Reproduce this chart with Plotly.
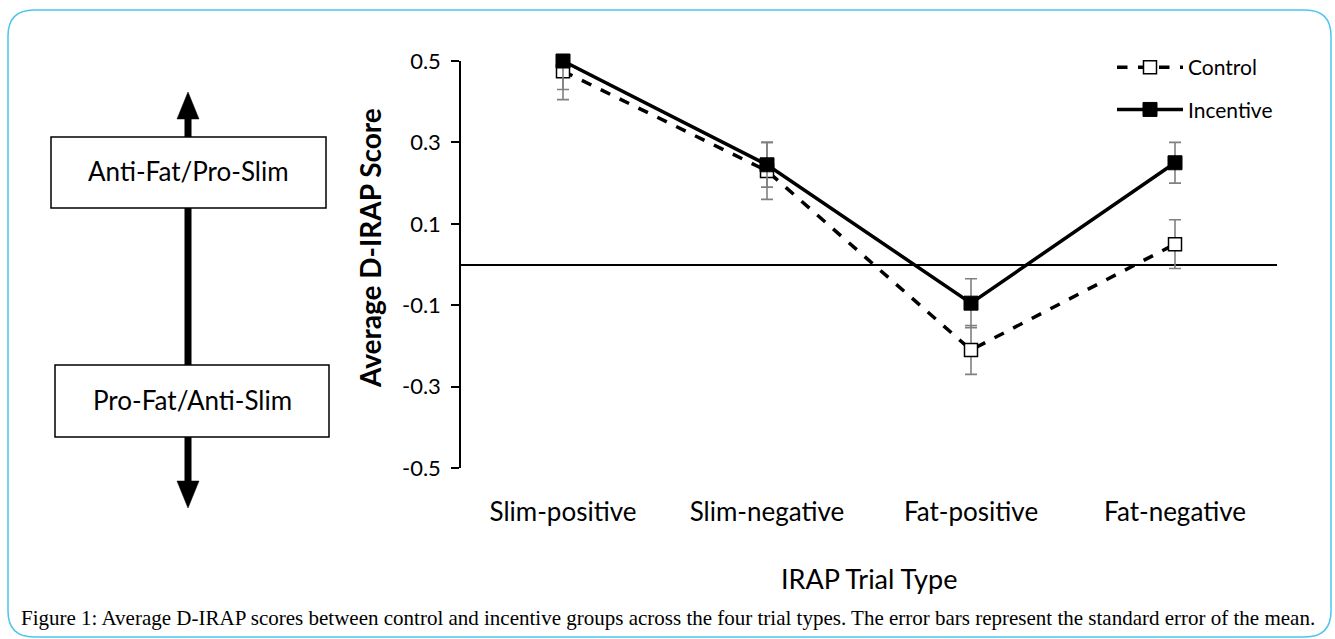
import plotly.graph_objects as go

# ---------------- data ----------------
categories = ["Slim-positive", "Slim-negative", "Fat-positive", "Fat-negative"]
control_mean = [0.475, 0.23, -0.21, 0.05]
control_se = [0.07, 0.07, 0.06, 0.06]
incentive_mean = [0.50, 0.245, -0.095, 0.25]
incentive_se = [0.07, 0.055, 0.06, 0.05]
y_tickvals = [0.5, 0.3, 0.1, -0.1, -0.3, -0.5]
y_ticktext = ["0.5", "0.3", "0.1", "-0.1", "-0.3", "-0.5"]
Y_MIN, Y_MAX = -0.5, 0.5

# ---------------- layout geometry ----------------
W, H = 1335, 639
L, R, T, B = 461, 58, 61, 171
PW, PH = W - L - R, H - T - B


def px(x):
    return (x - L) / PW


def py(y):
    return (H - B - y) / PH


FONT = "Lato"
GRAY = "#808080"


def clipped_plus(means, ses):
    return [min(s, Y_MAX - m) for m, s in zip(means, ses)]


fig = go.Figure()
fig.add_trace(go.Scatter(
    x=categories, y=control_mean, name="Control", mode="lines+markers",
    legendgroup="c", cliponaxis=False,
    line=dict(color="black", width=3.5, dash="dash"),
    marker=dict(symbol="square", size=13, color="white",
                line=dict(color="black", width=1.5)),
    error_y=dict(type="data", symmetric=False,
                 array=clipped_plus(control_mean, control_se),
                 arrayminus=control_se, color=GRAY, thickness=1.6, width=6),
))
fig.add_trace(go.Scatter(
    x=categories, y=incentive_mean, name="Incentive", mode="lines+markers",
    legendgroup="i", cliponaxis=False,
    line=dict(color="black", width=3.5),
    marker=dict(symbol="square", size=14, color="black",
                line=dict(color="black", width=1)),
    error_y=dict(type="data", symmetric=False,
                 array=clipped_plus(incentive_mean, incentive_se),
                 arrayminus=incentive_se, color=GRAY, thickness=1.6, width=6),
))

# ---------------- decorative shapes ----------------
shapes = []
# rounded outer border
x0, x1, y0, y1, r = 8, 1331, 10, 637, 26
path = (f"M {px(x0 + r)},{py(y0)} L {px(x1 - r)},{py(y0)} "
        f"Q {px(x1)},{py(y0)} {px(x1)},{py(y0 + r)} "
        f"L {px(x1)},{py(y1 - r)} Q {px(x1)},{py(y1)} {px(x1 - r)},{py(y1)} "
        f"L {px(x0 + r)},{py(y1)} Q {px(x0)},{py(y1)} {px(x0)},{py(y1 - r)} "
        f"L {px(x0)},{py(y0 + r)} Q {px(x0)},{py(y0)} {px(x0 + r)},{py(y0)} Z")
shapes.append(dict(type="path", xref="paper", yref="paper", path=path,
                   line=dict(color="#4cc4ee", width=1.5), layer="below"))
# arrow shaft
shapes.append(dict(type="line", xref="paper", yref="paper",
                   x0=px(188), x1=px(188), y0=py(116), y1=py(484),
                   line=dict(color="black", width=7)))
# arrow heads
shapes.append(dict(type="path", xref="paper", yref="paper",
                   path=f"M {px(188)},{py(92)} L {px(199)},{py(119)} L {px(177)},{py(119)} Z",
                   fillcolor="black", line=dict(color="black", width=0.5)))
shapes.append(dict(type="path", xref="paper", yref="paper",
                   path=f"M {px(188)},{py(508)} L {px(199)},{py(481)} L {px(177)},{py(481)} Z",
                   fillcolor="black", line=dict(color="black", width=0.5)))
# boxes
shapes.append(dict(type="rect", xref="paper", yref="paper",
                   x0=px(51), x1=px(326), y0=py(137), y1=py(208),
                   fillcolor="white", line=dict(color="black", width=1.5)))
shapes.append(dict(type="rect", xref="paper", yref="paper",
                   x0=px(55), x1=px(329), y0=py(365), y1=py(437),
                   fillcolor="white", line=dict(color="black", width=1.5)))

annotations = [
    dict(text="Anti-Fat/Pro-Slim", xref="paper", yref="paper",
         x=px(188.5), y=py(171), showarrow=False, xanchor="center", yanchor="middle",
         font=dict(family=FONT, size=26, color="black")),
    dict(text="Pro-Fat/Anti-Slim", xref="paper", yref="paper",
         x=px(192), y=py(400), showarrow=False, xanchor="center", yanchor="middle",
         font=dict(family=FONT, size=26, color="black")),
    dict(text="Figure 1: Average D-IRAP scores between control and incentive groups across the four trial types. "
              "The error bars represent the standard error of the mean.",
         xref="paper", yref="paper", x=px(667.5), y=py(618), showarrow=False,
         xanchor="center", yanchor="middle",
         font=dict(family="Liberation Serif", size=21, color="black")),
    dict(text="<b>Average D-IRAP Score</b>", xref="paper", yref="paper",
         x=px(370), y=py(248), showarrow=False, textangle=-90,
         xanchor="center", yanchor="middle",
         font=dict(family=FONT, size=28, color="black")),
    dict(text="IRAP Trial Type", xref="paper", yref="paper",
         x=px(869), y=py(578), showarrow=False, xanchor="center", yanchor="middle",
         font=dict(family=FONT, size=27, color="black")),
]

fig.update_layout(
    width=W, height=H,
    margin=dict(l=L, r=R, t=T, b=B, autoexpand=False),
    paper_bgcolor="white", plot_bgcolor="white",
    shapes=shapes, annotations=annotations,
    showlegend=True,
    legend=dict(x=px(1112), y=py(47), xanchor="left", yanchor="top",
                font=dict(family=FONT, size=21, color="black"),
                traceorder="grouped", tracegroupgap=12, itemwidth=66,
                bgcolor="rgba(0,0,0,0)"),
    xaxis=dict(type="category", range=[-0.5, 3.5], showline=False, showgrid=False,
               zeroline=False, ticks="", ticklabelstandoff=26,
               tickfont=dict(family=FONT, size=26, color="black")),
    yaxis=dict(range=[Y_MIN, Y_MAX], tickvals=y_tickvals, ticktext=y_ticktext,
               showline=True, linecolor="black", linewidth=1.5,
               ticks="outside", ticklen=8, tickwidth=1.5, tickcolor="black",
               showgrid=False, zeroline=True, zerolinecolor="black", zerolinewidth=2,
               ticklabelstandoff=6,
               tickfont=dict(family=FONT, size=22, color="black")),
)

fig.write_html("out.html", config={"displayModeBar": False},
               post_script="document.body.style.margin='0';")
